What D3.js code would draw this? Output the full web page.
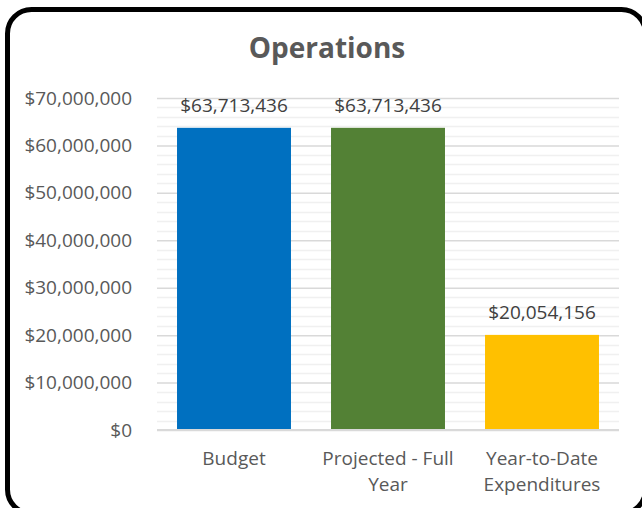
<!DOCTYPE html>
<html><head><meta charset="utf-8">
<script src="https://cdn.jsdelivr.net/npm/d3@7"></script>
<style>body{margin:0;background:#fff;overflow:hidden}svg{display:block}text{font-family:"Open Sans",sans-serif}</style>
</head><body>
<script>
const categories = ["Budget", "Projected - Full Year", "Year-to-Date Expenditures"];
const categoryLines = [["Budget"], ["Projected - Full", "Year"], ["Year-to-Date", "Expenditures"]];
const values = [63713436, 63713436, 20054156];
const colors = ["#0070C0", "#538135", "#FFC000"];
const yTicks = [0, 10000000, 20000000, 30000000, 40000000, 50000000, 60000000, 70000000];
const title = "Operations";

(function () {
const W = 642, H = 508;
const svg = d3.select("body").append("svg").attr("width", W).attr("height", H);
svg.append("rect").attr("x", 7.5).attr("y", 9.5).attr("width", 638).attr("height", 504)
  .attr("rx", 24).attr("fill", "#fff").attr("stroke", "#000").attr("stroke-width", 5);

const pL = 157, pR = 619, pT = 98, pB = 430;
const y = d3.scaleLinear().domain([0, 70000000]).range([pB, pT]);
const x = d3.scaleBand().domain(categories).range([pL, pR]).paddingInner(0.26).paddingOuter(0.13);
const fmt = d3.format("$,.0f");
const fs = 19;

// minor gridlines
const minor = d3.range(0, 70000001, 2000000).filter(v => v % 10000000 !== 0);
svg.append("g").selectAll("line").data(minor).join("line")
  .attr("x1", pL).attr("x2", pR).attr("y1", d => Math.round(y(d)) + 0.5).attr("y2", d => Math.round(y(d)) + 0.5)
  .attr("stroke", "#f0f0f0").attr("stroke-width", 1.5);

// major gridlines via axis
const axis = d3.axisLeft(y).tickValues(yTicks).tickSize(-(pR - pL)).tickFormat(fmt).tickPadding(25);
const ga = svg.append("g").attr("transform", `translate(${pL},0)`).call(axis);
ga.select(".domain").remove();
ga.selectAll(".tick line").attr("stroke", "#d9d9d9").attr("stroke-width", 1.5);
ga.selectAll(".tick text").attr("fill", "#595959").attr("font-size", fs).attr("x", -25).attr("dy", "0.32em");

// bars
svg.append("g").selectAll("rect").data(values).join("rect")
  .attr("x", (d, i) => x(categories[i])).attr("width", x.bandwidth())
  .attr("y", d => y(d)).attr("height", d => y(0) - y(d))
  .attr("fill", (d, i) => colors[i]);

// baseline
svg.append("line").attr("x1", pL).attr("x2", pR).attr("y1", y(0)).attr("y2", y(0))
  .attr("stroke", "#d9d9d9").attr("stroke-width", 2);

// data labels
svg.append("g").selectAll("text").data(values).join("text")
  .attr("x", (d, i) => x(categories[i]) + x.bandwidth() / 2).attr("y", d => y(d) - 16)
  .attr("text-anchor", "middle").attr("fill", "#404040").attr("font-size", fs)
  .text(d => fmt(d));

// category labels
const cl = svg.append("g").selectAll("text").data(categories).join("text")
  .attr("text-anchor", "middle").attr("fill", "#595959").attr("font-size", fs)
  .attr("x", d => x(d) + x.bandwidth() / 2).attr("y", 465);
cl.selectAll("tspan").data((d, i) => categoryLines[i]).join("tspan")
  .attr("x", function () { return d3.select(this.parentNode).attr("x"); })
  .attr("dy", (d, j) => j === 0 ? 0 : 26).text(d => d);

// title
svg.append("text").attr("x", 327).attr("y", 58).attr("text-anchor", "middle")
  .attr("font-size", 28).attr("font-weight", "bold").attr("fill", "#595959").text(title);
})();
</script>
</body></html>
